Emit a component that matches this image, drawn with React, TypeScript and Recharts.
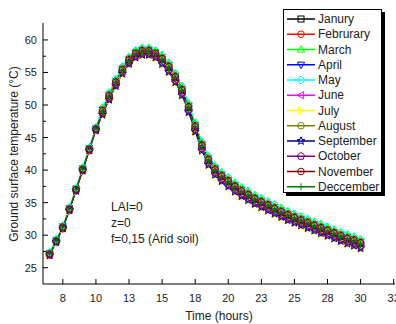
import { LineChart, Line, XAxis, YAxis } from "recharts";

const hours = [
  6.5, 7, 7.5, 8, 8.5, 9, 9.5, 10, 10.5, 11, 11.5, 12, 12.5, 13, 13.5, 14, 14.5, 15, 15.5, 16, 16.5, 17, 17.5, 18,
  18.5, 19, 19.5, 20, 20.5, 21, 21.5, 22, 22.5, 23, 23.5, 24, 24.5, 25, 25.5, 26, 26.5, 27, 27.5, 28, 28.5, 29, 29.5, 30,
];

const janury = [
  27.2, 29.2, 31.3, 34.1, 37.1, 40.2, 43.3, 46.4, 49.2, 51.5, 53.6, 55.5, 57.0, 58.0, 58.4, 58.4, 58.0, 57.2, 56.0, 54.4,
  52.4, 49.8, 46.8, 43.9, 41.7, 40.2, 39.2, 38.4, 37.6, 36.9, 36.3, 35.7, 35.2, 34.7, 34.2, 33.7, 33.2, 32.8, 32.4, 32.0,
  31.6, 31.2, 30.8, 30.4, 30.0, 29.6, 29.3, 28.9,
];
const februrary = [
  27.2, 29.2, 31.3, 34.1, 37.1, 40.2, 43.3, 46.4, 49.3, 51.6, 53.7, 55.6, 57.1, 58.1, 58.5, 58.5, 58.1, 57.3, 56.1, 54.5,
  52.5, 49.9, 46.9, 44.0, 41.8, 40.3, 39.3, 38.5, 37.7, 37.0, 36.4, 35.8, 35.3, 34.8, 34.3, 33.8, 33.3, 32.9, 32.5, 32.1,
  31.7, 31.3, 30.9, 30.5, 30.1, 29.7, 29.4, 29.0,
];
const march = [
  27.3, 29.3, 31.4, 34.2, 37.2, 40.3, 43.4, 46.5, 49.5, 51.8, 53.9, 55.8, 57.3, 58.3, 58.7, 58.7, 58.3, 57.6, 56.4, 54.8,
  52.8, 50.2, 47.2, 44.3, 42.1, 40.6, 39.6, 38.8, 38.0, 37.3, 36.7, 36.1, 35.6, 35.1, 34.6, 34.1, 33.6, 33.2, 32.8, 32.4,
  32.0, 31.6, 31.2, 30.8, 30.4, 30.0, 29.7, 29.3,
];
const april = [
  26.9, 28.9, 31.0, 33.8, 36.8, 39.9, 43.0, 46.1, 48.6, 50.9, 53.0, 54.9, 56.4, 57.4, 57.8, 57.8, 57.4, 56.4, 55.2, 53.6,
  51.6, 49.0, 46.0, 43.1, 40.9, 39.4, 38.4, 37.6, 36.8, 36.1, 35.5, 34.9, 34.4, 33.9, 33.4, 32.9, 32.4, 32.0, 31.6, 31.2,
  30.8, 30.4, 30.0, 29.6, 29.2, 28.8, 28.5, 28.1,
];
const may = [
  27.4, 29.4, 31.5, 34.3, 37.3, 40.4, 43.5, 46.6, 49.6, 51.9, 54.0, 55.9, 57.4, 58.4, 58.8, 58.8, 58.4, 57.7, 56.5, 54.9,
  52.9, 50.3, 47.3, 44.4, 42.2, 40.7, 39.7, 38.9, 38.1, 37.4, 36.8, 36.2, 35.7, 35.2, 34.7, 34.2, 33.7, 33.3, 32.9, 32.5,
  32.1, 31.7, 31.3, 30.9, 30.5, 30.1, 29.8, 29.4,
];
const june = [
  27.0, 29.0, 31.1, 33.9, 36.9, 40.0, 43.1, 46.2, 48.8, 51.1, 53.2, 55.1, 56.6, 57.6, 58.0, 58.0, 57.6, 56.7, 55.5, 53.9,
  51.9, 49.3, 46.3, 43.4, 41.2, 39.7, 38.7, 37.9, 37.1, 36.4, 35.8, 35.2, 34.7, 34.2, 33.7, 33.2, 32.7, 32.3, 31.9, 31.5,
  31.1, 30.7, 30.3, 29.9, 29.5, 29.1, 28.8, 28.4,
];
const july = [
  26.8, 28.8, 30.9, 33.7, 36.7, 39.8, 42.9, 46.0, 48.4, 50.7, 52.8, 54.7, 56.2, 57.2, 57.6, 57.6, 57.2, 56.2, 55.0, 53.4,
  51.4, 48.8, 45.8, 42.9, 40.7, 39.2, 38.2, 37.4, 36.6, 35.9, 35.3, 34.7, 34.2, 33.7, 33.2, 32.7, 32.2, 31.8, 31.4, 31.0,
  30.6, 30.2, 29.8, 29.4, 29.0, 28.6, 28.3, 27.9,
];
const august = [
  27.1, 29.1, 31.2, 34.0, 37.0, 40.1, 43.2, 46.3, 49.0, 51.3, 53.4, 55.3, 56.8, 57.8, 58.2, 58.2, 57.8, 57.0, 55.8, 54.2,
  52.2, 49.6, 46.6, 43.7, 41.5, 40.0, 39.0, 38.2, 37.4, 36.7, 36.1, 35.5, 35.0, 34.5, 34.0, 33.5, 33.0, 32.6, 32.2, 31.8,
  31.4, 31.0, 30.6, 30.2, 29.8, 29.4, 29.1, 28.7,
];
const september = [
  26.9, 28.9, 31.0, 33.8, 36.8, 39.9, 43.0, 46.1, 48.5, 50.8, 52.9, 54.8, 56.3, 57.3, 57.7, 57.7, 57.3, 56.3, 55.1, 53.5,
  51.5, 48.9, 45.9, 43.0, 40.8, 39.3, 38.3, 37.5, 36.7, 36.0, 35.4, 34.8, 34.3, 33.8, 33.3, 32.8, 32.3, 31.9, 31.5, 31.1,
  30.7, 30.3, 29.9, 29.5, 29.1, 28.7, 28.4, 28.0,
];
const october = [
  27.0, 29.0, 31.1, 33.9, 36.9, 40.0, 43.1, 46.2, 48.7, 51.0, 53.1, 55.0, 56.5, 57.5, 57.9, 57.9, 57.5, 56.6, 55.4, 53.8,
  51.8, 49.2, 46.2, 43.3, 41.1, 39.6, 38.6, 37.8, 37.0, 36.3, 35.7, 35.1, 34.6, 34.1, 33.6, 33.1, 32.6, 32.2, 31.8, 31.4,
  31.0, 30.6, 30.2, 29.8, 29.4, 29.0, 28.7, 28.3,
];
const november = [
  27.1, 29.1, 31.2, 34.0, 37.0, 40.1, 43.2, 46.3, 49.1, 51.4, 53.5, 55.4, 56.9, 57.9, 58.3, 58.3, 57.9, 57.1, 55.9, 54.3,
  52.3, 49.7, 46.7, 43.8, 41.6, 40.1, 39.1, 38.3, 37.5, 36.8, 36.2, 35.6, 35.1, 34.6, 34.1, 33.6, 33.1, 32.7, 32.3, 31.9,
  31.5, 31.1, 30.7, 30.3, 29.9, 29.5, 29.2, 28.8,
];
const deccember = [
  27.1, 29.1, 31.2, 34.0, 37.0, 40.1, 43.2, 46.3, 48.9, 51.2, 53.3, 55.2, 56.7, 57.7, 58.1, 58.1, 57.7, 56.9, 55.7, 54.1,
  52.1, 49.5, 46.5, 43.6, 41.4, 39.9, 38.9, 38.1, 37.3, 36.6, 36.0, 35.4, 34.9, 34.4, 33.9, 33.4, 32.9, 32.5, 32.1, 31.7,
  31.3, 30.9, 30.5, 30.1, 29.7, 29.3, 29.0, 28.6,
];

const xTicks = [7.5, 10, 12.5, 15, 17.5, 20, 22.5, 25, 27.5, 30, 32.5];
const xTickLabels = ["8", "10", "13", "15", "18", "20", "23", "25", "28", "30", "33"];
const yMajor = [25, 30, 35, 40, 45, 50, 55, 60];
const yTicks = [25, 27.5, 30, 32.5, 35, 37.5, 40, 42.5, 45, 47.5, 50, 52.5, 55, 57.5, 60];

const months = [
  { key: "jan", name: "Janury", color: "#000000", shape: "square", values: janury },
  { key: "feb", name: "Februrary", color: "#ff0000", shape: "circle", values: februrary },
  { key: "mar", name: "March", color: "#00ff00", shape: "up", values: march },
  { key: "apr", name: "April", color: "#0000ff", shape: "down", values: april },
  { key: "may", name: "May", color: "#00ffff", shape: "diamond", values: may },
  { key: "jun", name: "June", color: "#ff00ff", shape: "left", values: june },
  { key: "jul", name: "July", color: "#ffff00", shape: "right", values: july },
  { key: "aug", name: "August", color: "#808000", shape: "circle", values: august },
  { key: "sep", name: "September", color: "#000080", shape: "star", values: september },
  { key: "oct", name: "October", color: "#800080", shape: "pentagon", values: october },
  { key: "nov", name: "November", color: "#800000", shape: "circleDot", values: november },
  { key: "dec", name: "Deccember", color: "#008000", shape: "plus", values: deccember },
];

const rows = hours.map((t, i) => {
  const row: Record<string, number> = { t };
  months.forEach((m) => (row[m.key] = m.values[i]));
  return row;
});

const FONT = "'Liberation Sans', Arial, sans-serif";
const TEXT = "#222";

function ring(cx: number, cy: number, n: number, rOut: number, rIn?: number) {
  const pts: string[] = [];
  const count = rIn ? n * 2 : n;
  for (let k = 0; k < count; k++) {
    const a = (-90 + (360 / count) * k) * (Math.PI / 180);
    const r = rIn && k % 2 === 1 ? rIn : rOut;
    pts.push(`${cx + r * Math.cos(a)},${cy + r * Math.sin(a)}`);
  }
  return pts.join(" ");
}

const Marker = ({ cx, cy, shape, color }: any) => {
  if (cx == null || cy == null || isNaN(cx) || isNaN(cy)) return null;
  const s = { fill: "none", stroke: color, strokeWidth: 1 };
  switch (shape) {
    case "square":
      return <rect x={cx - 3} y={cy - 3} width={6} height={6} {...s} />;
    case "circle":
      return <circle cx={cx} cy={cy} r={3.3} {...s} />;
    case "up":
      return <polygon points={`${cx},${cy - 3.8} ${cx + 3.6},${cy + 2.6} ${cx - 3.6},${cy + 2.6}`} {...s} />;
    case "down":
      return <polygon points={`${cx},${cy + 3.8} ${cx + 3.6},${cy - 2.6} ${cx - 3.6},${cy - 2.6}`} {...s} />;
    case "diamond":
      return <polygon points={`${cx},${cy - 4} ${cx + 4},${cy} ${cx},${cy + 4} ${cx - 4},${cy}`} {...s} />;
    case "left":
      return <polygon points={`${cx - 3.8},${cy} ${cx + 2.6},${cy - 3.6} ${cx + 2.6},${cy + 3.6}`} {...s} />;
    case "right":
      return <polygon points={`${cx + 3.8},${cy} ${cx - 2.6},${cy - 3.6} ${cx - 2.6},${cy + 3.6}`} {...s} />;
    case "star":
      return <polygon points={ring(cx, cy, 5, 4.2, 1.8)} {...s} />;
    case "pentagon":
      return <polygon points={ring(cx, cy, 5, 3.8)} {...s} />;
    case "circleDot":
      return (
        <g>
          <circle cx={cx} cy={cy} r={3.3} {...s} />
          <circle cx={cx} cy={cy} r={0.9} fill={color} />
        </g>
      );
    case "plus":
      return <path d={`M${cx - 3.5},${cy}H${cx + 3.5}M${cx},${cy - 3.5}V${cy + 3.5}`} {...s} />;
    default:
      return null;
  }
};

const XTick = ({ x, y, payload, side }: any) => {
  const dir = side === "bottom" ? -1 : 1;
  const idx = xTicks.indexOf(payload.value);
  return (
    <g>
      <line x1={x} x2={x} y1={y} y2={y + dir * 5} stroke="#000" strokeWidth={1} />
      {side === "bottom" && (
        <text x={x} y={y + 14} textAnchor="middle" dominantBaseline="central" fontSize={11} fontFamily={FONT} fill={TEXT}>
          {xTickLabels[idx]}
        </text>
      )}
    </g>
  );
};

const YTick = ({ x, y, payload, side }: any) => {
  const dir = side === "left" ? 1 : -1;
  const major = yMajor.includes(payload.value);
  const len = major ? 5 : 3;
  return (
    <g>
      <line x1={x} x2={x + dir * len} y1={y} y2={y} stroke="#000" strokeWidth={1} />
      {side === "left" && major && (
        <text x={x - 6} y={y} textAnchor="end" dominantBaseline="central" fontSize={11} fontFamily={FONT} fill={TEXT}>
          {payload.value}
        </text>
      )}
    </g>
  );
};

const xDomain = [6, 32.6];
const yDomain = [22.5, 62.6];

export default function App() {
  return (
    <div style={{ position: "absolute", left: 0, top: 0, width: 396, height: 324, background: "#fff", fontFamily: FONT }}>
      <LineChart width={396} height={324} data={rows} margin={{ top: 23, right: 1, bottom: 20, left: 8 }}>
        <XAxis
          dataKey="t"
          type="number"
          domain={xDomain}
          allowDataOverflow
          ticks={xTicks}
          interval={0}
          height={20}
          tickSize={0}
          tickMargin={0}
          tickLine={false}
          axisLine={{ stroke: "#000" }}
          tick={(p: any) => <XTick {...p} side="bottom" />}
        />
        <XAxis
          xAxisId="top"
          orientation="top"
          type="number"
          domain={xDomain}
          allowDataOverflow
          ticks={xTicks}
          interval={0}
          height={0}
          tickSize={0}
          tickMargin={0}
          tickLine={false}
          axisLine={{ stroke: "#000" }}
          tick={(p: any) => <XTick {...p} side="top" />}
        />
        <YAxis
          type="number"
          domain={yDomain}
          allowDataOverflow
          ticks={yTicks}
          interval={0}
          width={35}
          tickSize={0}
          tickMargin={0}
          tickLine={false}
          axisLine={{ stroke: "#000" }}
          tick={(p: any) => <YTick {...p} side="left" />}
        />
        <YAxis
          yAxisId="right"
          orientation="right"
          type="number"
          domain={yDomain}
          allowDataOverflow
          ticks={yTicks}
          interval={0}
          width={0}
          tickSize={0}
          tickMargin={0}
          tickLine={false}
          axisLine={{ stroke: "#000" }}
          tick={(p: any) => <YTick {...p} side="right" />}
        />
        {months.map((m) => (
          <Line
            key={m.key}
            dataKey={m.key}
            name={m.name}
            type="linear"
            stroke={m.color}
            strokeWidth={1}
            isAnimationActive={false}
            activeDot={false}
            dot={(p: any) => <Marker key={`${m.key}-${p.index}`} cx={p.cx} cy={p.cy} shape={m.shape} color={m.color} />}
          />
        ))}
      </LineChart>

      <svg width={396} height={324} style={{ position: "absolute", left: 0, top: 0, pointerEvents: "none" }}>
        <text
          x={14}
          y={154}
          transform="rotate(-90 14 154)"
          textAnchor="middle"
          dominantBaseline="central"
          fontSize={12}
          fontFamily={FONT}
          fill={TEXT}
        >
          Ground surface temperature (°C)
        </text>
        <text x={219} y={316} textAnchor="middle" dominantBaseline="central" fontSize={12} fontFamily={FONT} fill={TEXT}>
          Time (hours)
        </text>
        <text x={111} y={207} dominantBaseline="central" fontSize={12} fontFamily={FONT} fill={TEXT}>
          LAI=0
        </text>
        <text x={111} y={223} dominantBaseline="central" fontSize={12} fontFamily={FONT} fill={TEXT}>
          z=0
        </text>
        <text x={111} y={239} dominantBaseline="central" fontSize={12} fontFamily={FONT} fill={TEXT}>
          f=0,15 (Arid soil)
        </text>
      </svg>

      <div
        style={{
          position: "absolute",
          left: 283,
          top: 9,
          width: 97,
          height: 182,
          border: "1px solid #000",
          background: "#fff",
          boxShadow: "3px 3px 0 #000",
        }}
      >
        <svg width={97} height={182} style={{ display: "block", overflow: "visible" }}>
          {months.map((m, i) => {
            const cy = 9 + i * 15.25;
            return (
              <g key={m.key}>
                <line x1={3} x2={31} y1={cy} y2={cy} stroke={m.color} strokeWidth={1.5} />
                <Marker cx={17} cy={cy} shape={m.shape} color={m.color} />
                <text x={34} y={cy} dominantBaseline="central" fontSize={12} fontFamily={FONT} fill={TEXT}>
                  {m.name}
                </text>
              </g>
            );
          })}
        </svg>
      </div>
    </div>
  );
}
